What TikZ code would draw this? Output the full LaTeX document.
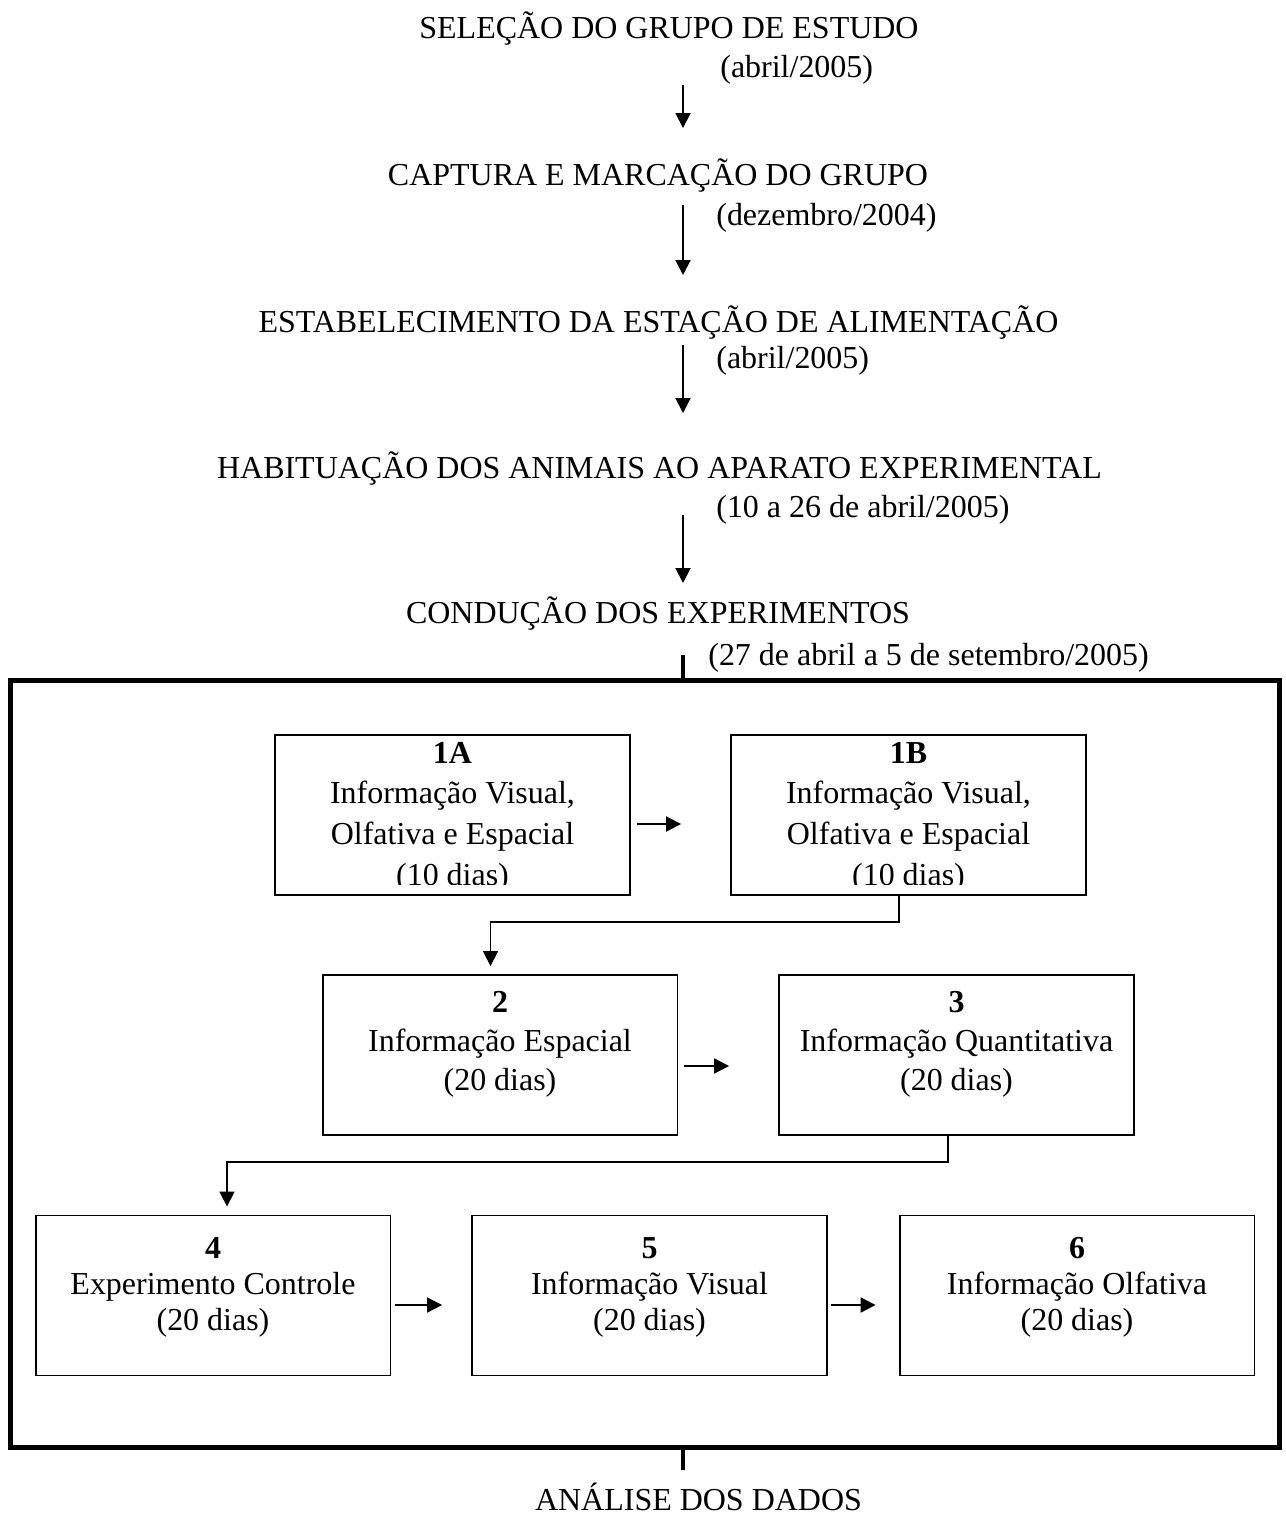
\documentclass[tikz,border=0pt]{standalone}
\usepackage{fontspec}
\setmainfont{Liberation Serif}
\usetikzlibrary{positioning, arrows.meta}

\begin{document}
\begin{tikzpicture}[x=0.02cm, y=-0.02cm,
    every node/.style={font=\fontsize{18.2}{21}\selectfont, inner sep=0pt},
    etapa/.style={draw, line width=1.1pt, minimum width=7.1cm, minimum height=3.2cm},
    seta/.style={line width=1.1pt, -{Triangle[length=0.3cm, width=0.3cm]}},
    marco/.style={line width=2.8pt}]
  % #1 altura da 1a linha, #2 entrelinha, #3 numero em negrito, #4 descricao
  \def\etapatexto#1#2#3#4{\parbox[c][3.2cm][t]{7.1cm}{\centering
      \fontsize{18.2}{#2}\selectfont\rule{0pt}{#1}\textbf{#3}\\#4}}
  \useasboundingbox (0,0) rectangle (1285,1528);

  % sequencia de preparacao
  \node[anchor=base] (t1) at (669,38) {SELEÇÃO DO GRUPO DE ESTUDO};
  \node[anchor=base west] (d1) at (720,77) {(abril/2005)};
  \node[anchor=base] (t2) at (658,185) {CAPTURA E MARCAÇÃO DO GRUPO};
  \node[anchor=base west] (d2) at (716,225) {(dezembro/2004)};
  \node[anchor=base] (t3) at (658.5,332) {ESTABELECIMENTO DA ESTAÇÃO DE ALIMENTAÇÃO};
  \node[anchor=base west] (d3) at (716,368) {(abril/2005)};
  \node[anchor=base] (t4) at (659.5,478) {HABITUAÇÃO DOS ANIMAIS AO APARATO EXPERIMENTAL};
  \node[anchor=base west] (d4) at (716,517) {(10 a 26 de abril/2005)};
  \node[anchor=base] (t5) at (658,623) {CONDUÇÃO DOS EXPERIMENTOS};
  \node[anchor=base west] (d5) at (708,665) {(27 de abril a 5 de setembro/2005)};
  \coordinate (ax) at (683,0);
  \foreach \a/\b/\s/\e in {t1/t2/0.94/1.14, t2/t3/0.40/1.14, t3/t4/0.26/1.30, t4/t5/0.74/0.80}
    \draw[seta, shorten <=\s cm, shorten >=\e cm] (\a.base -| ax) -- (\b.base -| ax);

  % bloco dos experimentos
  \node[draw, line width=2.8pt, minimum width=25.4cm, minimum height=15.36cm] (exp) at (645,1064) {};
  \draw[marco] (exp.north -| ax) -- ++(0,0.46cm);

  \node[etapa] (e1A) at (452.5,815) {\etapatexto{0.56cm}{23.2pt}{1A}{Informação Visual,\\Olfativa e Espacial\\(10 dias)}};
  \node[etapa] (e1B) at (908.5,815) {\etapatexto{0.56cm}{23.2pt}{1B}{Informação Visual,\\Olfativa e Espacial\\(10 dias)}};
  \node[etapa] (e2) at (500,1055) {\etapatexto{0.74cm}{22.4pt}{2}{Informação Espacial\\(20 dias)}};
  \node[etapa] (e3) at (956.5,1055) {\etapatexto{0.74cm}{22.4pt}{3}{Informação Quantitativa\\(20 dias)}};
  \node[etapa] (e4) at (213,1295.5) {\etapatexto{0.86cm}{20.6pt}{4}{Experimento Controle\\(20 dias)}};
  \node[etapa] (e5) at (649.5,1295.5) {\etapatexto{0.86cm}{20.6pt}{5}{Informação Visual\\(20 dias)}};
  \node[etapa] (e6) at (1077,1295.5) {\etapatexto{0.86cm}{20.6pt}{6}{Informação Olfativa\\(20 dias)}};
  % ultima linha cortada pela borda da caixa
  \foreach \a in {e1A, e1B}
    \fill[white] ([shift={(0.05cm,0.03cm)}]\a.south west) rectangle ([shift={(-0.05cm,0.22cm)}]\a.south east);

  \foreach \a/\b/\s/\e/\dy in {e1A/e1B/0.12/0.98/-0.18, e2/e3/0.12/0.98/-0.22,
                              e4/e5/0.08/0.58/-0.19, e5/e6/0.06/0.46/-0.19}
    \draw[seta, shorten <=\s cm, shorten >=\e cm] ([yshift=\dy cm]\a.east) -- ([yshift=\dy cm]\b.west);
  \draw[seta, line width=1pt, shorten >=0.16cm] ([xshift=-0.19cm]e1B.south) -- ++(0,-0.52cm) -| ([xshift=-0.19cm]e2.north);
  \draw[seta, line width=1pt, shorten >=0.16cm] ([xshift=-0.17cm]e3.south) -- ++(0,-0.52cm) -| ([xshift=0.28cm]e4.north);

  % final
  \node[anchor=base] (fim) at (698.5,1510) {ANÁLISE DOS DADOS};
  \draw[marco, shorten >=0.24cm] (exp.south -| ax) -- (fim.north -| ax);
\end{tikzpicture}
\end{document}
